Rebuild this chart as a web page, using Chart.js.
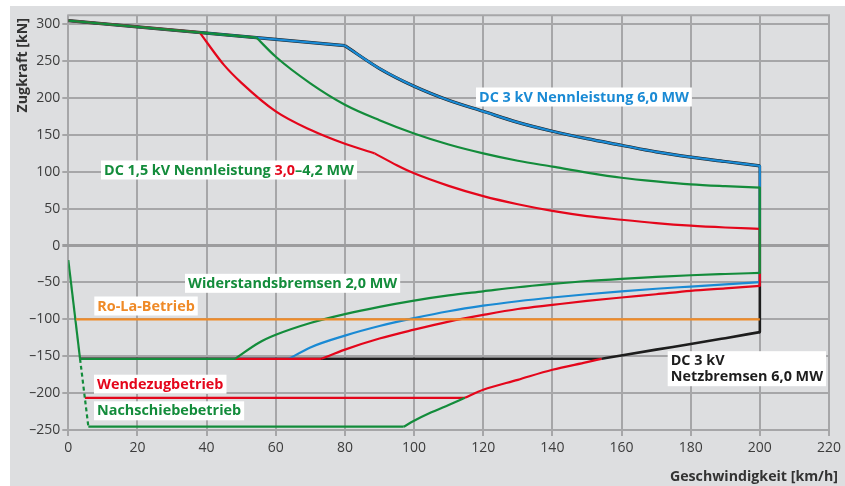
<!DOCTYPE html>
<html><head><meta charset="utf-8">
<script src="https://cdn.jsdelivr.net/npm/chart.js@4/dist/chart.umd.min.js"></script>
<style>html,body{margin:0;padding:0;background:#fff}canvas{display:block}</style>
</head><body><canvas id="c" width="845" height="486"></canvas>
<script>
// ---------- data (km/h, kN) ----------
const xTicks = [0, 20, 40, 60, 80, 100, 120, 140, 160, 180, 200, 220];
const yTicks = [-250, -200, -150, -100, -50, 0, 50, 100, 150, 200, 250, 300];

// DC 3 kV traction 6,0 MW (blue, with black underlay)
const blueLinX = [0, 80];
const blueLinY = [305, 271];
const blueTracX = [80, 90, 100, 110, 120, 130, 140, 150, 160, 170, 180, 190, 200];
const blueTracY = [271, 240, 216, 197, 182, 167, 155, 145, 136, 127, 120, 114, 108];
const blueDropX = [200, 200];
const blueDropY = [108, -49.6];
const blueBrakeX = [63.8, 70, 80, 90, 100, 110, 120, 130, 140, 150, 160, 170, 180, 190, 200];
const blueBrakeY = [-153.5, -138, -122, -109, -98.4, -89, -81.5, -75.5, -70.4, -66, -62, -58.5, -55.5, -52.5, -49.6];
const blueFlatX = [3.4, 63.8];
const blueFlatY = [-153.5, -153.5];

// DC 1,5 kV 4,2 MW (green)
const greenLinX = [0, 54.4];
const greenLinY = [305, 282];
const greenTracX = [54.4, 60, 70, 80, 90, 100, 110, 120, 130, 140, 150, 160, 170, 180, 190, 200];
const greenTracY = [282, 256, 220, 191, 170, 152, 137, 125, 115, 107, 99, 92, 87, 83, 80.5, 78.5];
const greenDropX = [200, 200];
const greenDropY = [78.5, -37];
const greenBrakeX = [48.2, 55, 60, 70, 80, 90, 100, 110, 120, 130, 140, 150, 160, 170, 180, 190, 200];
const greenBrakeY = [-153.5, -132, -121, -105, -93, -83, -74.5, -67.5, -62, -56.5, -52, -48, -45, -42.5, -40.2, -38.5, -37];
const greenFlatX = [3.4, 48.2];
const greenFlatY = [-153.5, -153.5];
const greenSteepX = [0, 3.4];
const greenSteepY = [-19.6, -153.5];
const greenDashX = [3.4, 5.8];
const greenDashY = [-153.5, -245.5];
const pushFlatX = [5.8, 97];
const pushFlatY = [-245.5, -245.5];
const pushRiseX = [97, 100, 105, 110, 114.7];
const pushRiseY = [-245.5, -237.5, -226, -216, -206.4];

// DC 1,5 kV 3,0 MW (red)
const redLinX = [0, 38];
const redLinY = [305, 289];
const redTrac1X = [38, 40, 45, 50, 60, 70, 80, 88.6];
const redTrac1Y = [289, 276, 245, 221, 182, 157, 138, 125];
const redTrac2X = [88.6, 95, 100, 110, 120, 130, 140, 150, 160, 170, 180, 190, 200];
const redTrac2Y = [125, 109, 98, 81, 67, 56, 47, 40, 35, 30.5, 27, 24.5, 22.6];
const redDropX = [200, 200];
const redDropY = [22.6, -54.6];
const redBrakeX = [73.2, 80, 90, 100, 110, 120, 130, 140, 150, 160, 170, 180, 190, 200];
const redBrakeY = [-153.5, -141, -126, -114, -103, -94, -86, -80.4, -75, -70.4, -66, -61.4, -58, -54.6];
const redFlatX = [3.4, 73.2];
const redFlatY = [-153.5, -153.5];
const pullFlatX = [4.8, 114.7];
const pullFlatY = [-206.4, -206.4];
const pullRiseX = [114.7, 120, 130, 140, 150, 154.2];
const pullRiseY = [-206.4, -195.5, -182, -168.4, -158, -153.5];

// DC 3 kV Netzbremsen 6,0 MW (black)
const blackDropX = [200, 200];
const blackDropY = [108, -117.3];
const blackBrakeX = [154.2, 170, 180, 190, 200];
const blackBrakeY = [-153.5, -141, -133.5, -125.5, -117.3];
const blackFlatX = [3.4, 154.2];
const blackFlatY = [-153.5, -153.5];

// Ro-La-Betrieb (orange)
const rolaX = [2.2, 200];
const rolaY = [-100, -100];

// ---------- styling ----------
const C = {
  green: '#138c3b', red: '#e4061b', blue: '#1a8ad4', orange: '#ef8a27', black: '#1d1d1d',
  panel: '#dddee0', grid: '#a6a6a8', zero: '#9c9c9e', tick: '#3c3c3c'
};
const FONT = "'Open Sans', 'Noto Sans', sans-serif";

function seg(xs, ys, color, width, order, curve, extra) {
  return Object.assign({
    data: xs.map((x, i) => ({x: x, y: ys[i]})),
    borderColor: color, backgroundColor: color, borderWidth: width,
    showLine: true, pointRadius: 0, pointHoverRadius: 0, fill: false, order: order,
    cubicInterpolationMode: curve ? 'monotone' : 'default', tension: 0
  }, extra || {});
}

const W = 2.2;
const datasets = [
  seg(rolaX, rolaY, C.orange, W, 0, false),
  seg(greenLinX, greenLinY, C.green, W, 1, false),
  seg(greenTracX, greenTracY, C.green, W, 1, true),
  seg(greenDropX, greenDropY, C.green, W, 1, false),
  seg(greenBrakeX, greenBrakeY, C.green, W, 1, true),
  seg(greenFlatX, greenFlatY, C.green, W, 1, false),
  seg(greenSteepX, greenSteepY, C.green, W, 1, false),
  seg(greenDashX, greenDashY, C.green, W, 1, false, {borderDash: [4, 3]}),
  seg(pushFlatX, pushFlatY, C.green, W, 1, false),
  seg(pushRiseX, pushRiseY, C.green, W, 1, true),
  seg(redLinX, redLinY, C.red, W, 2, false),
  seg(redTrac1X, redTrac1Y, C.red, W, 2, true),
  seg(redTrac2X, redTrac2Y, C.red, W, 2, true),
  seg(redDropX, redDropY, C.red, W, 2, false),
  seg(redBrakeX, redBrakeY, C.red, W, 2, true),
  seg(redFlatX, redFlatY, C.red, W, 2, false),
  seg(pullFlatX, pullFlatY, C.red, W, 2, false),
  seg(pullRiseX, pullRiseY, C.red, W, 2, true),
  seg(blueLinX, blueLinY, C.blue, 2.2, 3, false),
  seg(blueTracX, blueTracY, C.blue, 2.2, 3, true),
  seg(blueDropX, blueDropY, C.blue, W, 3, false),
  seg(blueBrakeX, blueBrakeY, C.blue, W, 3, true),
  seg(blueFlatX, blueFlatY, C.blue, W, 3, false),
  seg(blueLinX, blueLinY, C.black, 3.2, 4, false),
  seg(blueTracX, blueTracY, C.black, 3.2, 4, true),
  seg(blackDropX, blackDropY, C.black, 2.6, 4, false),
  seg(blackBrakeX, blackBrakeY, C.black, 2.6, 4, true),
  seg(blackFlatX, blackFlatY, C.black, 2.6, 4, false)
];

const labels = [
  {left: 476, cy: 97, lines: [[['DC 3 kV Nennleistung 6,0 MW', C.blue]]]},
  {left: 101, cy: 170, lines: [[['DC 1,5 kV Nennleistung ', C.green], ['3,0', C.red], ['\u20134,2 MW', C.green]]]},
  {left: 185, cy: 283.3, lines: [[['Widerstandsbremsen 2,0 MW', C.green]]]},
  {left: 94.3, cy: 306, lines: [[['Ro-La-Betrieb', C.orange]]]},
  {left: 94, cy: 384.2, lines: [[['Wendezugbetrieb', C.red]]]},
  {left: 94, cy: 410.8, lines: [[['Nachschiebebetrieb', C.green]]]},
  {left: 667.7, cy: 368.7, lines: [[['DC 3 kV', C.black]], [['Netzbremsen 6,0 MW', C.black]]]}
];

const deco = {
  id: 'deco',
  beforeDraw(chart) {
    const ctx = chart.ctx;
    ctx.save();
    ctx.fillStyle = '#ffffff';
    ctx.fillRect(0, 0, chart.width, chart.height);
    ctx.fillStyle = C.panel;
    ctx.fillRect(10, 6, chart.width - 10, chart.height - 6);
    ctx.restore();
  },
  beforeDatasetsDraw(chart) {
    const ctx = chart.ctx, a = chart.chartArea;
    ctx.save();
    ctx.strokeStyle = C.grid;
    ctx.lineWidth = 2;
    ctx.beginPath();
    ctx.moveTo(a.left - 1, a.top);
    ctx.lineTo(a.right + 1, a.top);
    ctx.stroke();
    ctx.restore();
  },
  afterDraw(chart) {
    const ctx = chart.ctx;
    ctx.save();
    ctx.font = 'bold 14.4px ' + FONT;
    ctx.textBaseline = 'middle';
    const lh = 16;
    labels.forEach(L => {
      let maxW = 0;
      L.lines.forEach(line => {
        let w = 0;
        line.forEach(p => { w += ctx.measureText(p[0]).width; });
        maxW = Math.max(maxW, w);
      });
      const h = L.lines.length * lh + 3;
      ctx.fillStyle = '#ffffff';
      ctx.fillRect(L.left, L.cy - h / 2, maxW + 6, h);
      L.lines.forEach((line, i) => {
        let x = L.left + 3;
        const y = L.cy - (L.lines.length - 1) * lh / 2 + i * lh + 0.5;
        ctx.textAlign = 'left';
        line.forEach(p => {
          ctx.fillStyle = p[1];
          ctx.fillText(p[0], x, y);
          x += ctx.measureText(p[0]).width;
        });
      });
    });
    ctx.fillStyle = '#333333';
    ctx.font = 'bold 14.2px ' + FONT;
    ctx.textAlign = 'right';
    ctx.textBaseline = 'middle';
    ctx.fillText('Geschwindigkeit [km/h]', 838, 476.5);
    ctx.translate(22.5, 18);
    ctx.rotate(-Math.PI / 2);
    ctx.fillText('Zugkraft [kN]', 0, 0);
    ctx.restore();
  }
};

new Chart(document.getElementById('c'), {
  type: 'scatter',
  data: {datasets: datasets},
  plugins: [deco],
  options: {
    responsive: false,
    devicePixelRatio: 1,
    animation: false,
    events: [],
    layout: {padding: {left: 0, top: 15.3, right: 15.4, bottom: 0}},
    plugins: {legend: {display: false}, tooltip: {enabled: false}},
    elements: {line: {borderCapStyle: 'butt', borderJoinStyle: 'round'}},
    scales: {
      x: {
        type: 'linear', min: 0, max: 220,
        afterBuildTicks: s => { s.ticks = xTicks.map(v => ({value: v})); },
        afterFit: s => { s.height = 56; },
        ticks: {font: {family: FONT, size: 14}, color: C.tick, padding: 4, maxRotation: 0,
                callback: v => String(v)},
        grid: {color: C.grid, lineWidth: 2, tickLength: 6, drawTicks: true},
        border: {display: false}
      },
      y: {
        type: 'linear', min: -250, max: 312.2,
        afterBuildTicks: s => { s.ticks = yTicks.map(v => ({value: v})); },
        afterFit: s => { s.width = 68.3; },
        ticks: {font: {family: FONT, size: 14}, color: C.tick, padding: 2,
                callback: v => (v < 0 ? '\u2013' + Math.abs(v) : String(v))},
        grid: {
          color: c => (c.tick && c.tick.value === 0 ? C.zero : C.grid),
          lineWidth: c => (c.tick && c.tick.value === 0 ? 3 : 2),
          tickLength: 6, drawTicks: true
        },
        border: {display: false}
      }
    }
  }
});
</script></body></html>
